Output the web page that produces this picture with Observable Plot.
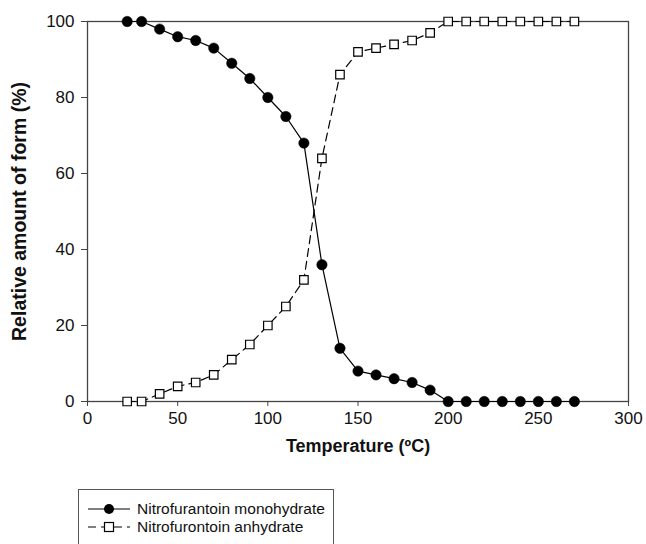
<!DOCTYPE html>
<html>
<head>
<meta charset="utf-8">
<script src="https://cdn.jsdelivr.net/npm/d3@7"></script>
<script src="https://cdn.jsdelivr.net/npm/@observablehq/plot@0.6"></script>
<style>
  body { margin: 0; background: #fff; font-family: "Liberation Sans", Arial, sans-serif; }
  #wrap { position: relative; width: 646px; height: 544px; overflow: hidden; }
  #legend { position: absolute; left: 78px; top: 489px; width: 256px; height: 70px; border: 1.5px solid #555; box-sizing: border-box; font-size: 15.5px; color: #111; }
  .row { position: absolute; left: 8px; height: 18px; display: flex; align-items: center; }
  .row span { margin-left: 6px; white-space: nowrap; }
</style>
</head>
<body>
<div id="wrap">
  <div id="chart"></div>
  <div id="legend">
    <div class="row" style="top:10px"><svg width="44" height="14"><line x1="1" y1="7" x2="43" y2="7" stroke="#000" stroke-width="1.2"/><circle cx="22" cy="7" r="5" fill="#000"/></svg><span>Nitrofurantoin monohydrate</span></div>
    <div class="row" style="top:28px"><svg width="44" height="14"><line x1="1" y1="7" x2="43" y2="7" stroke="#000" stroke-width="1.2" stroke-dasharray="8,5"/><rect x="17.5" y="2.5" width="9" height="9" fill="#fff" stroke="#000" stroke-width="1.2"/></svg><span>Nitrofurontoin anhydrate</span></div>
  </div>
</div>
<script>
const temperature = [22, 30, 40, 50, 60, 70, 80, 90, 100, 110, 120, 130, 140, 150, 160, 170, 180, 190, 200, 210, 220, 230, 240, 250, 260, 270];
const monohydrate = [100, 100, 98, 96, 95, 93, 89, 85, 80, 75, 68, 36, 14, 8, 7, 6, 5, 3, 0, 0, 0, 0, 0, 0, 0, 0];
const anhydrate   = [0, 0, 2, 4, 5, 7, 11, 15, 20, 25, 32, 64, 86, 92, 93, 94, 95, 97, 100, 100, 100, 100, 100, 100, 100, 100];
const xTicks = [0, 50, 100, 150, 200, 250, 300];
const yTicks = [0, 20, 40, 60, 80, 100];

const mono = temperature.map((t, i) => ({t, v: monohydrate[i]}));
const anhy = temperature.map((t, i) => ({t, v: anhydrate[i]}));

const chart = Plot.plot({
  width: 646,
  height: 470,
  marginLeft: 87,
  marginRight: 18,
  marginTop: 21,
  marginBottom: 69,
  style: { fontFamily: "Liberation Sans, Arial, sans-serif", fontSize: "17px", color: "#111", background: "#fff" },
  x: { domain: [0, 300] },
  y: { domain: [0, 100] },
  marks: [
    Plot.frame({ stroke: "#444", strokeWidth: 1.3 }),
    Plot.axisX({ ticks: xTicks, tickSize: 5, tickPadding: 5, fontSize: 17, stroke: "#444", label: "Temperature (ºC)", labelAnchor: "center", labelArrow: "none", labelOffset: 50 }),
    Plot.axisY({ ticks: yTicks, tickSize: 6, tickPadding: 7, fontSize: 17, stroke: "#444", label: "Relative amount of form (%)", labelAnchor: "center", labelArrow: "none", labelOffset: 75 }),
    Plot.line(anhy, { x: "t", y: "v", stroke: "#000", strokeWidth: 1.2, strokeDasharray: "8,5" }),
    Plot.line(mono, { x: "t", y: "v", stroke: "#000", strokeWidth: 1.2 }),
    Plot.dot(anhy, { x: "t", y: "v", symbol: "square", r: 4.8, fill: "#fff", stroke: "#000", strokeWidth: 1.2 }),
    Plot.dot(mono, { x: "t", y: "v", symbol: "circle", r: 5.2, fill: "#000", stroke: "#000", strokeWidth: 0.5 })
  ]
});
chart.querySelectorAll('[aria-label="x-axis tick label"] text, [aria-label="y-axis tick label"] text').forEach(t => { t.setAttribute("font-size", "17"); t.style.fontSize = "17px"; });
chart.querySelectorAll('[aria-label="x-axis label"] text').forEach(t => { t.setAttribute("font-size", "18"); t.style.fontSize = "18px"; t.style.fontWeight = "bold"; });
chart.querySelectorAll('[aria-label="y-axis label"] text').forEach(t => { t.setAttribute("font-size", "19.5"); t.style.fontSize = "19.5px"; t.style.fontWeight = "bold"; });
document.getElementById("chart").appendChild(chart);
</script>
</body>
</html>
